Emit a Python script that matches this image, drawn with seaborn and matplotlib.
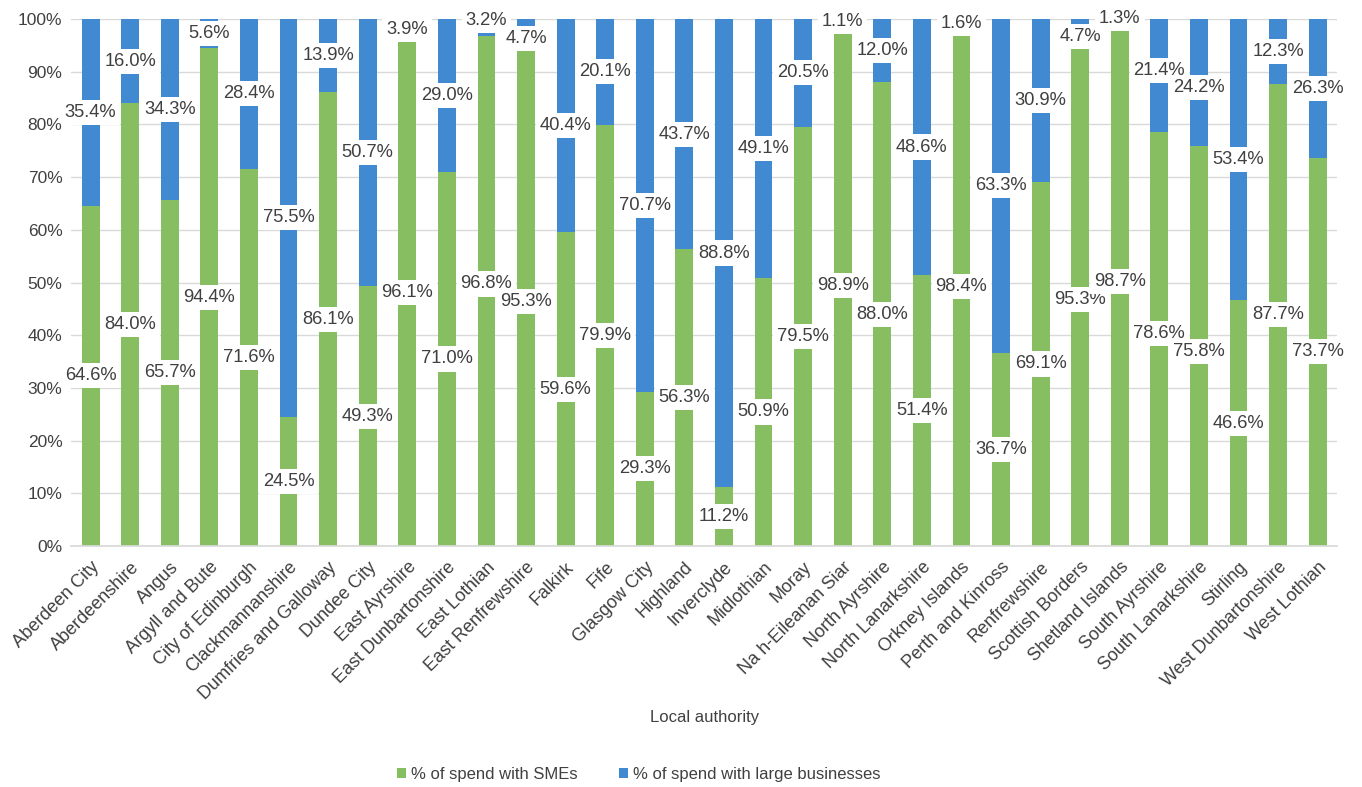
import matplotlib
matplotlib.use("Agg")
import matplotlib.pyplot as plt
import seaborn as sns
import pandas as pd
import numpy as np
from matplotlib.patches import Patch

authorities = ["Aberdeen City", "Aberdeenshire", "Angus", "Argyll and Bute", "City of Edinburgh",
               "Clackmannanshire", "Dumfries and Galloway", "Dundee City", "East Ayrshire",
               "East Dunbartonshire", "East Lothian", "East Renfrewshire", "Falkirk", "Fife",
               "Glasgow City", "Highland", "Inverclyde", "Midlothian", "Moray", "Na h-Eileanan Siar",
               "North Ayrshire", "North Lanarkshire", "Orkney Islands", "Perth and Kinross",
               "Renfrewshire", "Scottish Borders", "Shetland Islands", "South Ayrshire",
               "South Lanarkshire", "Stirling", "West Dunbartonshire", "West Lothian"]
sme_pct = [64.6, 84.0, 65.7, 94.4, 71.6, 24.5, 86.1, 49.3, 96.1, 71.0, 96.8, 95.3, 59.6, 79.9,
           29.3, 56.3, 11.2, 50.9, 79.5, 98.9, 88.0, 51.4, 98.4, 36.7, 69.1, 95.3, 98.7, 78.6,
           75.8, 46.6, 87.7, 73.7]
large_pct = [35.4, 16.0, 34.3, 5.6, 28.4, 75.5, 13.9, 50.7, 3.9, 29.0, 3.2, 4.7, 40.4, 20.1,
             70.7, 43.7, 88.8, 49.1, 20.5, 1.1, 12.0, 48.6, 1.6, 63.3, 30.9, 4.7, 1.3, 21.4,
             24.2, 53.4, 12.3, 26.3]

GREEN = "#87BE62"
BLUE = "#4189D0"
TXT = "#404040"

sns.set_theme(style="white")
plt.rcParams['font.family'] = ['Liberation Sans', 'DejaVu Sans']

df = pd.DataFrame({"authority": authorities, "sme": sme_pct, "large": large_pct})
df["total"] = df["sme"] + df["large"]

fig = plt.figure(figsize=(13.62, 7.87), dpi=100)
ax = fig.add_axes([0.052, 0.306, 0.930, 0.670])

sns.barplot(data=df, x="authority", y="total", color=BLUE, width=0.45, saturation=1,
            ax=ax, zorder=2, linewidth=0, edgecolor="none")
sns.barplot(data=df, x="authority", y="sme", color=GREEN, width=0.45, saturation=1,
            ax=ax, zorder=2, linewidth=0, edgecolor="none")

ax.set_ylim(0, 100)
ax.set_xlim(-0.5, len(authorities) - 0.5)
ax.set_yticks(np.arange(0, 101, 10))
ax.set_yticklabels([f"{v}%" for v in range(0, 101, 10)], fontsize=12.5, color=TXT)
ax.yaxis.grid(True, color="#D9D9D9", linewidth=1, zorder=0)
ax.set_axisbelow(True)
for s in ["left", "right", "top"]:
    ax.spines[s].set_visible(False)
ax.spines["bottom"].set_color("#D9D9D9")
ax.tick_params(axis="y", length=0, pad=6)
ax.tick_params(axis="x", length=0, pad=9)
ax.set_xticks(range(len(authorities)))
ax.set_xticklabels(authorities, rotation=45, ha="right", rotation_mode="anchor",
                   fontsize=13, color=TXT)
ax.set_xlabel("Local authority", fontsize=12, color=TXT, labelpad=5)
ax.set_ylabel("")

# Data labels: centred in each segment, then nudged apart where neighbours collide
labels = []
for i, (s, l) in enumerate(zip(sme_pct, large_pct)):
    labels.append([i, s / 2, f"{s:.1f}%"])
    labels.append([i, min(s + l / 2, 100.0), f"{l:.1f}%"])

min_gap = 3.4  # in percentage units (~label height)
for _ in range(30):
    moved = False
    for a in range(len(labels)):
        for b in range(a + 1, len(labels)):
            la, lb = labels[a], labels[b]
            if abs(la[0] - lb[0]) != 1:
                continue
            dy = la[1] - lb[1]
            if abs(dy) < min_gap - 1e-6:
                shift = (min_gap - abs(dy)) / 2
                sign = 1 if dy >= 0 else -1
                la[1] += sign * shift
                lb[1] -= sign * shift
                moved = True
    for lab in labels:
        if lab[1] > 100.0:
            lab[1] = 100.0
    if not moved:
        break

bbox = dict(boxstyle="square,pad=0.22", facecolor="white", edgecolor="none")
for x, y, t in labels:
    ax.text(x, y, t, ha="center", va="center", fontsize=13.2, color=TXT,
            bbox=bbox, zorder=5)

handles = [Patch(facecolor=GREEN, edgecolor="none", label="% of spend with SMEs"),
           Patch(facecolor=BLUE, edgecolor="none", label="% of spend with large businesses")]
fig.legend(handles=handles, loc="center", bbox_to_anchor=(0.469, 0.016), ncol=2, frameon=False,
           fontsize=12, handlelength=0.55, handleheight=0.55, handletextpad=0.3,
           columnspacing=2.5, labelcolor=TXT)

fig.savefig("out.png", dpi=100)
